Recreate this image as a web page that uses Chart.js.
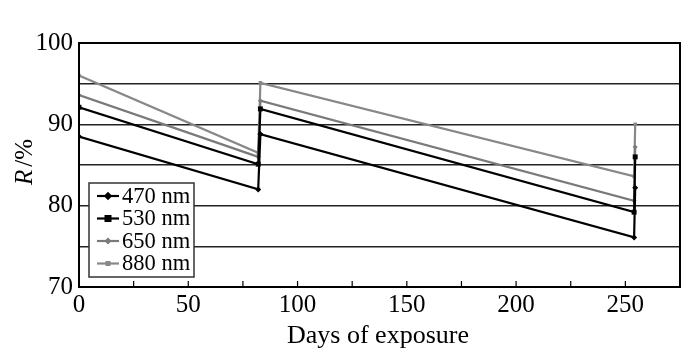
<!DOCTYPE html>
<html>
<head>
<meta charset="utf-8">
<script src="https://cdn.jsdelivr.net/npm/chart.js@4"></script>
<style>
  body { margin: 0; background: #fff; }
</style>
</head>
<body>
<canvas id="chart" width="700" height="354"></canvas>
<script>
const days = [0, 82, 83, 254, 254.5];
const r470 = [88.5, 82.0, 88.8, 76.1, 82.2];
const r530 = [92.1, 85.1, 91.9, 79.2, 86.0];
const r650 = [93.6, 86.0, 92.9, 80.6, 87.2];
const r880 = [96.0, 86.5, 95.1, 83.6, 90.0];
const seriesNames = ['470 nm', '530 nm', '650 nm', '880 nm'];
const xLabels = [0, 50, 100, 150, 200, 250];
const yLabels = [70, 80, 90, 100];

const FONT = '"Liberation Serif", "DejaVu Serif", serif';

function toPoints(vals) {
    return days.map((d, i) => ({ x: d, y: vals[i] }));
}

const styles = [
    { color: '#000000', shape: 'rectRot', radius: 3 },
    { color: '#000000', shape: 'rect', radius: 3.5 },
    { color: '#7a7a7a', shape: 'rectRot', radius: 2.5 },
    { color: '#888888', shape: 'rect', radius: 2.5 }
];

const datasets = [r470, r530, r650, r880].map((vals, i) => ({
    label: seriesNames[i],
    data: toPoints(vals),
    borderColor: styles[i].color,
    backgroundColor: styles[i].color,
    borderWidth: 2.2,
    pointStyle: styles[i].shape,
    pointRadius: styles[i].radius,
    pointBorderWidth: 0,
    tension: 0
}));

// frame, inward x ticks, axis titles and the inset legend
const extras = {
    id: 'extras',
    afterDraw(chart) {
        const ctx = chart.ctx;
        const a = chart.chartArea;
        const xs = chart.scales.x;
        ctx.save();
        ctx.strokeStyle = '#000';
        ctx.lineWidth = 2;
        ctx.strokeRect(a.left, a.top, a.right - a.left, a.bottom - a.top);

        // small inward ticks every 25 days
        ctx.lineWidth = 1.2;
        for (let v = 25; v < 275; v += 25) {
            const px = xs.getPixelForValue(v);
            ctx.beginPath();
            ctx.moveTo(px, a.bottom);
            ctx.lineTo(px, a.bottom - 6);
            ctx.stroke();
        }

        // x title
        ctx.fillStyle = '#000';
        ctx.font = '26px ' + FONT;
        ctx.textAlign = 'center';
        ctx.textBaseline = 'alphabetic';
        ctx.fillText('Days of exposure', 378, 343);

        // y title: italic R + " /%"
        ctx.translate(32, 162);
        ctx.rotate(-Math.PI / 2);
        ctx.font = 'italic 25px ' + FONT;
        const w1 = ctx.measureText('R').width;
        ctx.font = '25px ' + FONT;
        const w2 = ctx.measureText('/%').width;
        ctx.textAlign = 'left';
        ctx.font = 'italic 25px ' + FONT;
        ctx.fillText('R', -(w1 + w2 + 3) / 2, 0);
        ctx.font = '25px ' + FONT;
        ctx.fillText('/%', -(w1 + w2 + 3) / 2 + w1 + 3, 0);
        ctx.restore();

        // legend box in lower left of plot
        ctx.save();
        const bx = 89, by = 183, bw = 105, bh = 94;
        ctx.fillStyle = '#fff';
        ctx.fillRect(bx, by, bw, bh);
        ctx.strokeStyle = '#333';
        ctx.lineWidth = 1.5;
        ctx.strokeRect(bx, by, bw, bh);
        ctx.font = '22.5px ' + FONT;
        ctx.textBaseline = 'middle';
        chart.data.datasets.forEach((ds, i) => {
            const y = by + 13 + i * 22.5;
            ctx.strokeStyle = ds.borderColor;
            ctx.lineWidth = 2.2;
            ctx.beginPath();
            ctx.moveTo(bx + 8, y);
            ctx.lineTo(bx + 30, y);
            ctx.stroke();
            ctx.fillStyle = ds.borderColor;
            const r = ds.pointRadius;
            if (ds.pointStyle === 'rect') {
                ctx.fillRect(bx + 19 - r, y - r, 2 * r, 2 * r);
            } else {
                ctx.beginPath();
                ctx.moveTo(bx + 19, y - r * 1.4);
                ctx.lineTo(bx + 19 + r * 1.4, y);
                ctx.lineTo(bx + 19, y + r * 1.4);
                ctx.lineTo(bx + 19 - r * 1.4, y);
                ctx.closePath();
                ctx.fill();
            }
            ctx.fillStyle = '#000';
            ctx.textAlign = 'left';
            ctx.fillText(ds.label, bx + 33, y + 1);
        });
        ctx.restore();
    }
};

new Chart(document.getElementById('chart'), {
    type: 'line',
    data: { datasets: datasets },
    options: {
        responsive: false,
        animation: false,
        layout: { padding: { top: 43, right: 20, left: 0, bottom: 0 } },
        plugins: { legend: { display: false }, tooltip: { enabled: false } },
        scales: {
            x: {
                type: 'linear',
                min: 0,
                max: 275,
                afterFit: s => { s.height = 67; },
                afterBuildTicks: s => { s.ticks = xLabels.map(v => ({ value: v })); },
                grid: { display: false, drawTicks: false },
                border: { display: true, color: '#000', width: 2 },
                ticks: {
                    color: '#000',
                    padding: 3,
                    maxRotation: 0,
                    font: { family: FONT, size: 25 }
                }
            },
            y: {
                min: 70,
                max: 100,
                afterFit: s => { s.width = 79; },
                afterBuildTicks: s => {
                    const t = [];
                    for (let v = 70; v <= 100; v += 5) t.push({ value: v });
                    s.ticks = t;
                },
                grid: { color: '#222', lineWidth: 1.5, drawTicks: false },
                border: { display: true, color: '#000', width: 2 },
                ticks: {
                    color: '#000',
                    padding: 6,
                    font: { family: FONT, size: 25 },
                    callback: v => yLabels.includes(v) ? String(v) : ''
                }
            }
        }
    },
    plugins: [extras]
});
</script>
</body>
</html>
